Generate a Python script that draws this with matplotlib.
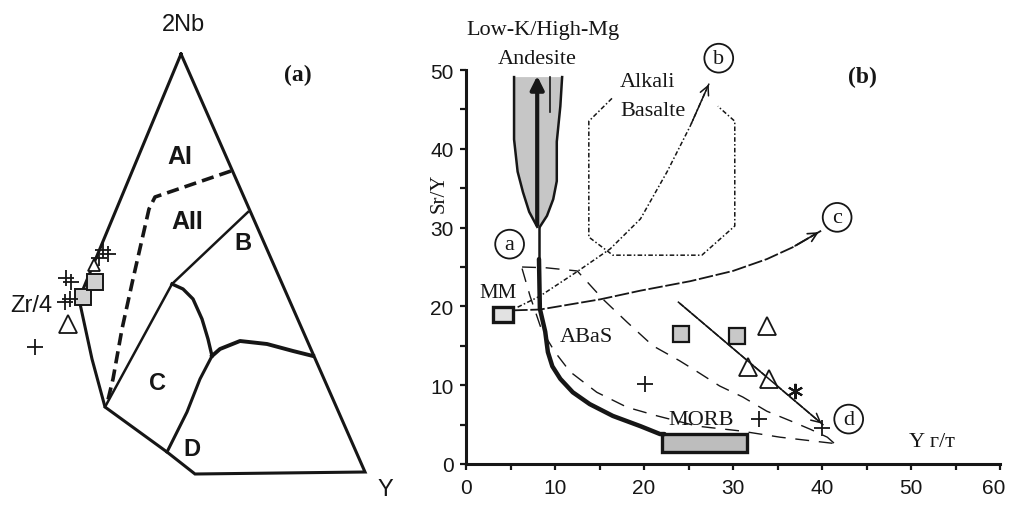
import matplotlib
matplotlib.use("Agg")
import matplotlib.pyplot as plt
from matplotlib.transforms import ScaledTranslation

# ---------------- panel (a): Nb-Zr-Y field outlines (drawing units, y down) ----------------
outline_x = [181, 79, 92, 105, 167, 195, 365, 181]
outline_y = [55, 300, 360, 408, 453, 475, 473, 55]
dash_x = [231, 155, 149, 141, 133, 122, 113, 107]
dash_y = [172, 198, 210, 245, 280, 330, 380, 405]
b_line_x = [105, 172, 248]
b_line_y = [408, 285, 213]
c_curve_x = [172, 183, 193, 202, 208, 212]
c_curve_y = [285, 290, 300, 320, 340, 357]
cd_curve_x = [212, 220, 240, 267, 293, 313]
cd_curve_y = [357, 350, 342, 345, 352, 357]
d_line_x = [212, 200, 187, 167]
d_line_y = [357, 380, 413, 453]
field_names = ["AI", "AII", "B", "C", "D"]
field_x = [180, 187, 243, 158, 192]
field_y = [157, 222, 243, 383, 450]

a_sq_x = [83, 95]
a_sq_y = [298, 283]
a_tri_x = [68]
a_tri_y = [325]
a_tri2_x = [94]
a_tri2_y = [266]
a_plus_x = [35, 66, 71, 65, 70, 103, 108, 99]
a_plus_y = [348, 279, 283, 303, 300, 251, 255, 259]

# ---------------- panel (b): Sr/Y vs Y ----------------
funnel_left_x = [5.4, 5.4, 5.8, 6.4, 7.1, 8.0]
funnel_left_y = [49.1, 41.2, 37.1, 34.5, 32.0, 30.1]
funnel_right_x = [10.8, 10.6, 10.2, 10.2, 9.8, 9.1, 8.3]
funnel_right_y = [49.1, 45.4, 40.9, 35.9, 33.6, 31.5, 30.1]

trend_x = [8.2, 8.3, 8.9, 9.2, 9.7, 10.6, 12.0, 13.9, 16.5, 19.6, 21.8, 22.3]
trend_y = [26.0, 19.7, 16.8, 14.2, 12.4, 10.8, 9.1, 7.6, 6.1, 4.8, 3.8, 3.8]

upper_x = [6.3, 9.0, 12.5, 15.4, 18.1, 21.0, 24.0, 26.0, 28.5, 31.1, 33.8, 36.4, 38.7, 40.6, 41.4]
upper_y = [25.0, 24.9, 24.5, 20.9, 18.0, 15.0, 13.1, 11.7, 9.9, 8.5, 6.7, 5.5, 4.4, 3.4, 2.6]
lower_x = [6.3, 7.2, 8.5, 10.0, 11.7, 14.7, 18.1, 21.5, 26.0, 30.8, 35.3, 41.4]
lower_y = [24.8, 21.3, 17.0, 14.2, 11.7, 9.1, 7.2, 6.1, 4.8, 4.2, 3.4, 2.6]

to_b_x = [5.8, 8.3, 12.6, 16.2, 19.6, 22.6, 25.2, 27.4]
to_b_y = [19.9, 21.3, 24.5, 27.3, 31.1, 37.1, 42.9, 48.5]
to_c_x = [5.3, 8.3, 15.1, 19.6, 25.2, 30.0, 33.8, 36.7, 39.9]
to_c_y = [19.5, 19.6, 20.9, 22.0, 23.2, 24.5, 26.0, 27.5, 29.6]
to_d_x = [23.8, 40.2]
to_d_y = [20.6, 4.9]

alk_x = [16.4, 13.8, 13.8, 16.5, 26.5, 30.2, 30.2, 28.3]
alk_y = [46.4, 43.5, 28.8, 26.5, 26.5, 30.2, 43.5, 45.4]

sq_x = [24.2, 30.4]
sq_y = [16.5, 16.2]
tri_x = [33.8, 31.7, 34.0]
tri_y = [17.5, 12.3, 10.8]
plus_x = [20.1, 32.9, 40.0]
plus_y = [10.2, 5.7, 4.6]
star_x = [37.0]
star_y = [9.3]

mm_box = (3.0, 18.0, 2.3, 1.9)      # x, y, width, height
morb_box = (22.0, 1.5, 9.6, 2.3)

circle_labels = ["a", "b", "c", "d"]
circle_x = [4.9, 28.4, 41.7, 43.0]
circle_y = [27.9, 51.5, 31.3, 5.7]

xticks = [0, 10, 20, 30, 40, 50, 60]
yticks = [0, 10, 20, 30, 40, 50]

ink = "#161616"
gray = "#c6c6c6"
serif = "Liberation Serif"
sans = "Liberation Sans"

fig = plt.figure(figsize=(10.09, 5.06), dpi=100)

# ---- panel (a)
axa = fig.add_axes([0, 0, 400 / 1009, 1])
axa.set_xlim(0, 400)
axa.set_ylim(506, 0)
axa.axis("off")
axa.plot(outline_x, outline_y, color=ink, lw=2.2, solid_joinstyle="miter")
axa.plot(dash_x, dash_y, color=ink, lw=2.6, linestyle=(0, (3.4, 1.7)))
axa.plot(b_line_x, b_line_y, color=ink, lw=1.8)
axa.plot(c_curve_x, c_curve_y, color=ink, lw=2.4)
axa.plot(cd_curve_x, cd_curve_y, color=ink, lw=2.8)
axa.plot(d_line_x, d_line_y, color=ink, lw=2.2)
for name, x, y in zip(field_names, field_x, field_y):
    axa.text(x, y, name, fontsize=17 if len(name) < 2 else 18, fontweight="bold",
             family=sans, ha="center", va="center", color=ink)
axa.plot(a_sq_x, a_sq_y, "s", ms=11, mfc="#d0d0d0", mec=ink, mew=1.4)
axa.plot(a_tri_x, a_tri_y, "^", ms=13, mfc="white", mec=ink, mew=1.3)
axa.plot(a_tri2_x, a_tri2_y, "^", ms=9, mfc="white", mec=ink, mew=1.3)
axa.plot(a_plus_x, a_plus_y, "+", ms=12, mec=ink, mew=1.3)
axa.text(183, 25, "2Nb", fontsize=17, family=sans, ha="center", va="center", color=ink)
axa.text(31, 306, "Zr/4", fontsize=17, family=sans, ha="center", va="center", color=ink)
axa.text(385, 490, "Y", fontsize=17, family=sans, ha="center", va="center", color=ink)
axa.text(298, 75, "(a)", fontsize=17, family=serif, fontweight="bold",
         ha="center", va="center", color=ink)

# ---- panel (b)
ax = fig.add_axes([466 / 1009, 41 / 506, 534 / 1009, 394 / 506])
ax.set_xlim(0, 60)
ax.set_ylim(0, 50)
for s in ["top", "right"]:
    ax.spines[s].set_visible(False)
for s in ["left", "bottom"]:
    ax.spines[s].set_linewidth(2.2)
    ax.spines[s].set_color(ink)
ax.set_xticks(xticks)
ax.set_yticks(yticks)
ax.set_xticks(range(0, 61, 5), minor=True)
ax.set_yticks(range(0, 51, 5), minor=True)
ax.tick_params(which="both", direction="out", length=4, width=1.6, color=ink,
               labelsize=15, labelcolor=ink)
ax.tick_params(axis="x", pad=6)
ax.tick_params(axis="y", pad=5)
for lab in ax.get_xticklabels() + ax.get_yticklabels():
    lab.set_family(sans)
# last x label sits a little inside the edge, as in the scan
last = ax.get_xticklabels()[-1]
last.set_transform(last.get_transform() + ScaledTranslation(-6 / 100, 0, fig.dpi_scale_trans))

# funnel of low-K / high-Mg andesites
ax.fill(funnel_left_x + funnel_right_x[::-1], funnel_left_y + funnel_right_y[::-1],
        color=gray, lw=0)
ax.plot(funnel_left_x, funnel_left_y, color=ink, lw=1.8)
ax.plot(funnel_right_x, funnel_right_y, color=ink, lw=1.8)
ax.plot([9.4, 9.4], [49.1, 44.7], color=ink, lw=1.2)
ax.annotate("", xy=(8.0, 49.6), xytext=(8.0, 30.0),
            arrowprops=dict(arrowstyle="-|>", lw=3, color=ink, mutation_scale=20))
ax.plot([8.2, 8.2], [30.0, 26.0], color=ink, lw=1.8)
ax.plot(trend_x, trend_y, color=ink, lw=3.2, solid_capstyle="round")

# ABaS envelope
ax.plot(upper_x, upper_y, color=ink, lw=1.0, linestyle=(0, (10, 7)))
ax.plot(lower_x, lower_y, color=ink, lw=1.0, linestyle=(0, (10, 7)))

# alkali basalt field
ax.plot(alk_x, alk_y, color=ink, lw=1.1, linestyle=(0, (3, 1.5, 1, 1.5)))

# trends to b, c, d
ax.plot(to_b_x, to_b_y, color=ink, lw=1.1, linestyle=(0, (3, 1.5, 1, 1.5)))
ax.annotate("", xy=(to_b_x[-1], to_b_y[-1]), xytext=(to_b_x[-2], to_b_y[-2]),
            arrowprops=dict(arrowstyle="->", lw=1.1, color=ink, mutation_scale=16))
ax.plot(to_c_x, to_c_y, color=ink, lw=1.3, linestyle=(0, (8, 1.5)))
ax.annotate("", xy=(to_c_x[-1], to_c_y[-1]), xytext=(to_c_x[-2], to_c_y[-2]),
            arrowprops=dict(arrowstyle="->", lw=1.2, color=ink, mutation_scale=16))
ax.plot(to_d_x, to_d_y, color=ink, lw=1.1, linestyle=(0, (5, 1)))
ax.annotate("", xy=(to_d_x[-1], to_d_y[-1]), xytext=(to_d_x[0], to_d_y[0]),
            arrowprops=dict(arrowstyle="->", lw=1.1, color=ink, mutation_scale=16))

# boxes
ax.add_patch(plt.Rectangle(mm_box[:2], mm_box[2], mm_box[3], fc="#e2e2e2", ec=ink, lw=2.4))
ax.add_patch(plt.Rectangle(morb_box[:2], morb_box[2], morb_box[3], fc="#bdbdbd", ec=ink, lw=2.4))

# samples
ax.plot(sq_x, sq_y, "s", ms=11, mfc="#c8c8c8", mec=ink, mew=1.6)
ax.plot(tri_x, tri_y, "^", ms=13, mfc="white", mec=ink, mew=1.3)
ax.plot(plus_x, plus_y, "+", ms=11, mec=ink, mew=1.3)
ax.plot(star_x, star_y, marker=(6, 2, 0), ms=11, mec=ink, mew=1.5, ls="none")

for lab, x, y in zip(circle_labels, circle_x, circle_y):
    ax.text(x, y, lab, fontsize=16, family=serif, ha="center", va="center", color=ink,
            clip_on=False,
            bbox=dict(boxstyle="circle,pad=0.22", fc="white", ec=ink, lw=1.3))

ax.text(8.65, 55.2, "Low-K/High-Mg", fontsize=16, family=serif, ha="center",
        va="center", color=ink, clip_on=False)
ax.text(8.0, 51.5, "Andesite", fontsize=16, family=serif, ha="center", va="center",
        color=ink, clip_on=False)
ax.text(17.3, 48.6, "Alkali", fontsize=16, family=serif, ha="left", va="center", color=ink)
ax.text(17.3, 44.8, "Basalte", fontsize=16, family=serif, ha="left", va="center", color=ink)
ax.text(44.5, 49.2, "(b)", fontsize=17, family=serif, fontweight="bold", ha="center",
        va="center", color=ink)
ax.text(3.6, 21.8, "MM", fontsize=15, family=serif, ha="center", va="center", color=ink)
ax.text(13.5, 16.2, "ABaS", fontsize=16, family=serif, ha="center", va="center", color=ink)
ax.text(26.4, 5.7, "MORB", fontsize=16, family=serif, ha="center", va="center", color=ink)
ax.text(52.4, 2.8, "Y г/т", fontsize=16, family=serif, ha="center", va="center", color=ink)
ax.text(-3.0, 34.5, "Sr/Y", fontsize=15, family=serif, rotation=90, ha="center",
        va="center", color=ink, clip_on=False)

fig.savefig("out.png", dpi=100)
